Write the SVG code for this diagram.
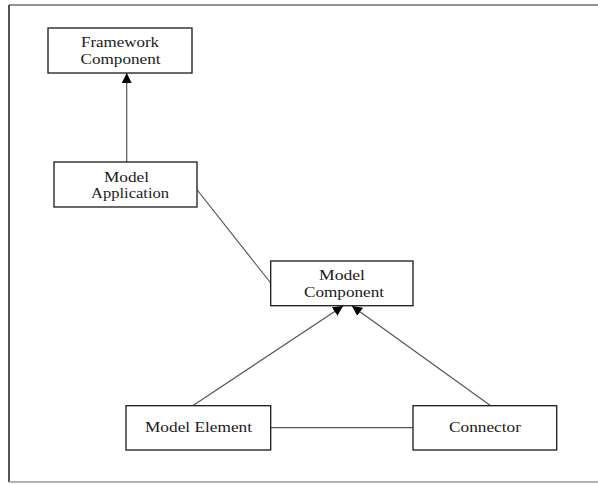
<svg xmlns="http://www.w3.org/2000/svg" width="598" height="484" viewBox="0 0 598 484">
  <style>
    .box { fill: #ffffff; stroke: #1a1a1a; stroke-width: 1.3; }
    .label { font-family: 'Liberation Serif', 'DejaVu Serif', 'Times New Roman', serif; font-size: 14.5px; fill: #1a1a1a; text-anchor: middle; }
    .link { stroke: #555555; stroke-width: 1.2; fill: none; }
  </style>
  <defs>
    <marker id="arrow" viewBox="0 0 10 10" refX="10" refY="5" markerWidth="10" markerHeight="10" markerUnits="userSpaceOnUse" orient="auto">
      <path d="M0,0 L10,5 L0,10 Z" fill="#000000"/>
    </marker>
  </defs>

  <!-- frame -->
  <rect x="0" y="0" width="598" height="484" fill="#ffffff"/>
  <line x1="9" y1="5" x2="598" y2="5" stroke="#6e6e6e" stroke-width="1.5"/>
  <line x1="9" y1="5" x2="9" y2="482" stroke="#1a1a1a" stroke-width="1.5"/>
  <line x1="9" y1="482" x2="598" y2="482" stroke="#9a9a9a" stroke-width="1.5"/>

  <!-- connectors -->
  <g id="connectors">
    <line class="link" x1="126.7" y1="162" x2="126.7" y2="73" marker-end="url(#arrow)"/>
    <line class="link" x1="191.7" y1="183" x2="270.7" y2="283"/>
    <line class="link" x1="192.7" y1="405.7" x2="343" y2="306" marker-end="url(#arrow)"/>
    <line class="link" x1="490.7" y1="405.7" x2="352" y2="306" marker-end="url(#arrow)"/>
    <line class="link" x1="270.7" y1="427.7" x2="413" y2="427.7"/>
  </g>

  <g id="framework-component">
    <rect class="box" x="48" y="28" width="144" height="45"/>
    <text class="label" x="120" y="47" textLength="78" lengthAdjust="spacingAndGlyphs">Framework</text>
    <text class="label" x="120.5" y="64" textLength="80" lengthAdjust="spacingAndGlyphs">Component</text>
  </g>

  <g id="model-application">
    <rect class="box" x="54" y="162" width="143" height="45"/>
    <text class="label" x="126.5" y="181.5" textLength="45" lengthAdjust="spacingAndGlyphs">Model</text>
    <text class="label" x="130" y="197.5" textLength="78" lengthAdjust="spacingAndGlyphs">Application</text>
  </g>

  <g id="model-component">
    <rect class="box" x="270.7" y="261" width="142.3" height="44.7"/>
    <text class="label" x="342" y="280" textLength="46" lengthAdjust="spacingAndGlyphs">Model</text>
    <text class="label" x="344" y="297" textLength="80" lengthAdjust="spacingAndGlyphs">Component</text>
  </g>

  <g id="model-element">
    <rect class="box" x="126" y="405.7" width="144.7" height="44.3"/>
    <text class="label" x="198.5" y="431.7" textLength="107" lengthAdjust="spacingAndGlyphs">Model Element</text>
  </g>

  <g id="connector">
    <rect class="box" x="413" y="405.7" width="143.7" height="44.3"/>
    <text class="label" x="485" y="431.7" textLength="72" lengthAdjust="spacingAndGlyphs">Connector</text>
  </g>
</svg>
